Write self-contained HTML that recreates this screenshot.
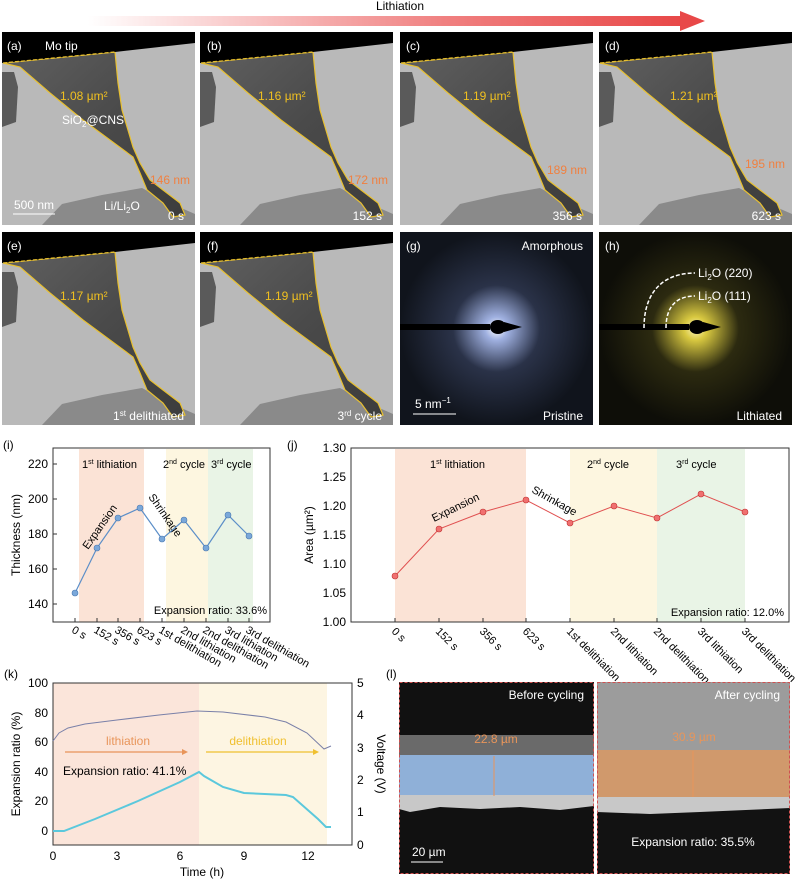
<!DOCTYPE html>
<html><head><meta charset="utf-8"><style>
html,body{margin:0;padding:0;background:#fff}
svg{display:block;font-family:"Liberation Sans",sans-serif}
</style></head><body>
<svg width="811" height="881" viewBox="0 0 811 881" xmlns="http://www.w3.org/2000/svg">
<defs>
<linearGradient id="arr" x1="0" x2="1" y1="0" y2="0"><stop offset="0" stop-color="#fff"/><stop offset="0.6" stop-color="#f08080"/><stop offset="1" stop-color="#e84848"/></linearGradient>
<linearGradient id="body" x1="0" y1="0" x2="1" y2="1"><stop offset="0" stop-color="#606060"/><stop offset="0.5" stop-color="#4a4a4a"/><stop offset="1" stop-color="#3c3c3c"/></linearGradient>
<radialGradient id="gb" cx="0.5" cy="0.5" r="0.5"><stop offset="0" stop-color="#fff"/><stop offset="0.12" stop-color="#9fb0e0"/><stop offset="0.45" stop-color="#2a3248"/><stop offset="1" stop-color="#10141c"/></radialGradient>
<radialGradient id="gy" cx="0.5" cy="0.5" r="0.5"><stop offset="0" stop-color="#fff8c0"/><stop offset="0.12" stop-color="#d8c840"/><stop offset="0.45" stop-color="#2c2a10"/><stop offset="1" stop-color="#0e0e08"/></radialGradient>
<g id="tem">
<rect x="0" y="0" width="193" height="193" fill="#b9b9b9"/>
<polygon points="40,193 60,172 100,163 140,156 170,172 193,182 193,193" fill="#8a8a8a"/>
<polygon points="0,40 12,40 16,55 14,90 0,95" fill="#5a5a5a"/>
<polygon points="1,31 113,20 116,51 120,78 131,115 138,131 148,148 161,158 178,171 183,183 171,185 161,171 145,158 138,141 131,125 108,108 81,88 48,61 18,35" fill="url(#body)" stroke="#e8c030" stroke-width="1.2"/>
<polygon points="0,0 193,0 193,11 113,20 0,31" fill="#000"/>
<line x1="1" y1="31" x2="113" y2="20" stroke="#e8c030" stroke-width="1.3" stroke-dasharray="4,2"/>
</g>
</defs>

<text x="400" y="10" font-size="12" text-anchor="middle">Lithiation</text>
<rect x="88" y="16" width="594" height="10" fill="url(#arr)"/>
<polygon points="680,11 705,21 680,31" fill="#e84848"/>

<use href="#tem" x="2" y="32"/>
<use href="#tem" x="200" y="32"/>
<use href="#tem" x="400" y="32"/>
<use href="#tem" x="599" y="32"/>
<use href="#tem" x="2" y="232"/>
<use href="#tem" x="200" y="232"/>
<g font-size="12" fill="#fff">
<text x="7" y="50">(a)</text><text x="45" y="50">Mo tip</text>
<text x="207" y="50">(b)</text><text x="406" y="50">(c)</text><text x="605" y="50">(d)</text>
<text x="7" y="250">(e)</text><text x="207" y="250">(f)</text>
<text x="62" y="124">SiO<tspan font-size="8" dy="3">2</tspan><tspan dy="-3">@CNS</tspan></text>
<text x="104" y="210">Li/Li<tspan font-size="8" dy="3">2</tspan><tspan dy="-3">O</tspan></text>
<text x="14" y="209">500 nm</text>
<text x="184" y="220" text-anchor="end">0 s</text>
<text x="382" y="220" text-anchor="end">152 s</text>
<text x="582" y="220" text-anchor="end">356 s</text>
<text x="781" y="220" text-anchor="end">623 s</text>
<text x="184" y="420" text-anchor="end">1<tspan font-size="8" dy="-4">st</tspan><tspan dy="4"> delithiated</tspan></text>
<text x="382" y="420" text-anchor="end">3<tspan font-size="8" dy="-4">rd</tspan><tspan dy="4"> cycle</tspan></text>
</g>
<line x1="13" y1="214" x2="55" y2="214" stroke="#fff" stroke-width="1"/>
<g font-size="12" fill="#f0c020">
<text x="60" y="100">1.08 µm²</text><text x="258" y="100">1.16 µm²</text>
<text x="463" y="100">1.19 µm²</text><text x="670" y="100">1.21 µm²</text>
<text x="60" y="300">1.17 µm²</text><text x="265" y="300">1.19 µm²</text>
</g>
<g font-size="12" fill="#f08040">
<text x="150" y="184">146 nm</text><text x="348" y="184">172 nm</text>
<text x="547" y="174">189 nm</text><text x="745" y="168">195 nm</text>
</g>

<rect x="400" y="232" width="193" height="193" fill="url(#gb)"/>
<rect x="599" y="232" width="193" height="193" fill="url(#gy)"/>
<g fill="#000">
<rect x="400" y="324" width="90" height="6"/><ellipse cx="498" cy="327" rx="8" ry="7"/><polygon points="504,322 522,327 504,332"/>
<rect x="599" y="324" width="90" height="6"/><ellipse cx="697" cy="327" rx="8" ry="7"/><polygon points="703,322 721,327 703,332"/>
</g>
<path d="M644,328 C644,290 665,273 695,273" fill="none" stroke="#fff" stroke-width="1.5" stroke-dasharray="4,2"/>
<path d="M666,328 C666,305 678,296 695,296" fill="none" stroke="#fff" stroke-width="1.5" stroke-dasharray="4,2"/>
<g font-size="12" fill="#fff">
<text x="406" y="250">(g)</text><text x="583" y="250" text-anchor="end">Amorphous</text>
<text x="415" y="408">5 nm<tspan font-size="8" dy="-5">−1</tspan></text>
<text x="583" y="420" text-anchor="end">Pristine</text>
<text x="605" y="250">(h)</text><text x="782" y="420" text-anchor="end">Lithiated</text>
<text x="698" y="277">Li<tspan font-size="8" dy="3">2</tspan><tspan dy="-3">O (220)</tspan></text>
<text x="698" y="300">Li<tspan font-size="8" dy="3">2</tspan><tspan dy="-3">O (111)</tspan></text>
</g>
<line x1="413" y1="414" x2="456" y2="414" stroke="#fff"/>

<!-- (i) -->
<text x="3" y="449" font-size="12">(i)</text>
<rect x="79" y="449" width="65" height="173" fill="#fbe3d6"/>
<rect x="166" y="449" width="42" height="173" fill="#fdf6e0"/>
<rect x="208" y="449" width="45" height="173" fill="#e9f4e6"/>
<rect x="53" y="448" width="217" height="174" fill="none" stroke="#333" stroke-width="1"/>
<g font-size="12" text-anchor="end">
<text x="48" y="468">220</text><text x="48" y="503">200</text><text x="48" y="538">180</text><text x="48" y="573">160</text><text x="48" y="608">140</text>
</g>
<g stroke="#333"><line x1="53" y1="464" x2="57" y2="464"/><line x1="53" y1="499" x2="57" y2="499"/><line x1="53" y1="534" x2="57" y2="534"/><line x1="53" y1="569" x2="57" y2="569"/><line x1="53" y1="604" x2="57" y2="604"/>
<line x1="75" y1="622" x2="75" y2="618"/><line x1="97" y1="622" x2="97" y2="618"/><line x1="118" y1="622" x2="118" y2="618"/><line x1="140" y1="622" x2="140" y2="618"/><line x1="162" y1="622" x2="162" y2="618"/><line x1="184" y1="622" x2="184" y2="618"/><line x1="206" y1="622" x2="206" y2="618"/><line x1="228" y1="622" x2="228" y2="618"/><line x1="249" y1="622" x2="249" y2="618"/></g>
<text transform="translate(20,535) rotate(-90)" font-size="12" text-anchor="middle">Thickness (nm)</text>
<g font-size="11">
<text x="82" y="468">1<tspan font-size="7" dy="-4">st</tspan><tspan dy="4"> lithiation</tspan></text>
<text x="163" y="468">2<tspan font-size="7" dy="-4">nd</tspan><tspan dy="4"> cycle</tspan></text>
<text x="211" y="468">3<tspan font-size="7" dy="-4">rd</tspan><tspan dy="4"> cycle</tspan></text>
<text x="267" y="614" text-anchor="end">Expansion ratio: 33.6%</text>
<text transform="translate(88,550) rotate(-55)">Expansion</text>
<text transform="translate(148,497) rotate(55)">Shrinkage</text>
</g>
<polyline points="75,593 97,548 118,518 140,508 162,539 184,520 206,548 228,515 249,536" fill="none" stroke="#5b8ec8" stroke-width="1.2"/>
<g fill="#7aa8da" stroke="#4a78b0" stroke-width="0.6"><circle cx="75" cy="593" r="3"/><circle cx="97" cy="548" r="3"/><circle cx="118" cy="518" r="3"/><circle cx="140" cy="508" r="3"/><circle cx="162" cy="539" r="3"/><circle cx="184" cy="520" r="3"/><circle cx="206" cy="548" r="3"/><circle cx="228" cy="515" r="3"/><circle cx="249" cy="536" r="3"/></g>
<g font-size="11">
<text transform="translate(71,632) rotate(30)">0 s</text>
<text transform="translate(93,632) rotate(30)">152 s</text>
<text transform="translate(114,632) rotate(30)">356 s</text>
<text transform="translate(136,632) rotate(30)">623 s</text>
<text transform="translate(158,632) rotate(30)">1st delithiation</text>
<text transform="translate(180,632) rotate(30)">2nd lithiation</text>
<text transform="translate(202,632) rotate(30)">2nd delithiation</text>
<text transform="translate(224,632) rotate(30)">3rd lithiation</text>
<text transform="translate(245,632) rotate(30)">3rd delithiation</text>
</g>

<!-- (j) -->
<text x="287" y="449" font-size="12">(j)</text>
<rect x="395" y="449" width="131" height="173" fill="#fbe3d6"/>
<rect x="570" y="449" width="87" height="173" fill="#fdf6e0"/>
<rect x="657" y="449" width="88" height="173" fill="#e9f4e6"/>
<rect x="351" y="448" width="438" height="174" fill="none" stroke="#333"/>
<g font-size="12" text-anchor="end">
<text x="346" y="452">1.30</text><text x="346" y="481">1.25</text><text x="346" y="510">1.20</text><text x="346" y="539">1.15</text><text x="346" y="568">1.10</text><text x="346" y="597">1.05</text><text x="346" y="626">1.00</text>
</g>
<g stroke="#333"><line x1="395" y1="622" x2="395" y2="618"/><line x1="439" y1="622" x2="439" y2="618"/><line x1="483" y1="622" x2="483" y2="618"/><line x1="526" y1="622" x2="526" y2="618"/><line x1="570" y1="622" x2="570" y2="618"/><line x1="614" y1="622" x2="614" y2="618"/><line x1="657" y1="622" x2="657" y2="618"/><line x1="701" y1="622" x2="701" y2="618"/><line x1="745" y1="622" x2="745" y2="618"/></g>
<text transform="translate(313,535) rotate(-90)" font-size="12" text-anchor="middle">Area (µm²)</text>
<g font-size="11">
<text x="430" y="468">1<tspan font-size="7" dy="-4">st</tspan><tspan dy="4"> lithiation</tspan></text>
<text x="587" y="468">2<tspan font-size="7" dy="-4">nd</tspan><tspan dy="4"> cycle</tspan></text>
<text x="676" y="468">3<tspan font-size="7" dy="-4">rd</tspan><tspan dy="4"> cycle</tspan></text>
<text x="784" y="616" text-anchor="end">Expansion ratio: 12.0%</text>
<text transform="translate(434,522) rotate(-26)">Expansion</text>
<text transform="translate(531,492) rotate(29)">Shrinkage</text>
</g>
<polyline points="395,576 439,529 483,512 526,500 570,523 614,506 657,518 701,494 745,512" fill="none" stroke="#e05050" stroke-width="1"/>
<g fill="#f07070" stroke="#c03030" stroke-width="0.6"><circle cx="395" cy="576" r="3"/><circle cx="439" cy="529" r="3"/><circle cx="483" cy="512" r="3"/><circle cx="526" cy="500" r="3"/><circle cx="570" cy="523" r="3"/><circle cx="614" cy="506" r="3"/><circle cx="657" cy="518" r="3"/><circle cx="701" cy="494" r="3"/><circle cx="745" cy="512" r="3"/></g>
<g font-size="11">
<text transform="translate(391,632) rotate(45)">0 s</text>
<text transform="translate(435,632) rotate(45)">152 s</text>
<text transform="translate(479,632) rotate(45)">356 s</text>
<text transform="translate(522,632) rotate(45)">623 s</text>
<text transform="translate(566,632) rotate(45)">1st delithiation</text>
<text transform="translate(610,632) rotate(45)">2nd lithiation</text>
<text transform="translate(653,632) rotate(45)">2nd delithiation</text>
<text transform="translate(697,632) rotate(45)">3rd lithiation</text>
<text transform="translate(741,632) rotate(45)">3rd delithiation</text>
</g>

<!-- (k) -->
<text x="4" y="678" font-size="12">(k)</text>
<rect x="53" y="683" width="146" height="162" fill="#fbe5da"/>
<rect x="199" y="683" width="128" height="162" fill="#fdf5e2"/>
<rect x="53" y="683" width="299" height="162" fill="none" stroke="#333"/>
<g font-size="12" text-anchor="end">
<text x="48" y="687">100</text><text x="48" y="717">80</text><text x="48" y="746">60</text><text x="48" y="776">40</text><text x="48" y="805">20</text><text x="48" y="835">0</text>
</g>
<g font-size="12">
<text x="357" y="687">5</text><text x="357" y="719">4</text><text x="357" y="752">3</text><text x="357" y="784">2</text><text x="357" y="816">1</text><text x="357" y="849">0</text>
</g>
<g font-size="12" text-anchor="middle">
<text x="53" y="860">0</text><text x="117" y="860">3</text><text x="180" y="860">6</text><text x="244" y="860">9</text><text x="308" y="860">12</text>
<text x="202" y="876">Time (h)</text>
</g>
<text transform="translate(20,764) rotate(-90)" font-size="12" text-anchor="middle">Expansion ratio (%)</text>
<text transform="translate(377,764) rotate(90)" font-size="12" text-anchor="middle">Voltage (V)</text>
<polyline points="53,741 59,733 68,728 85,724 117,720 159,715 197,711 223,712 265,717 286,722 307,733 324,749 331,746" fill="none" stroke="#7a80a8" stroke-width="1"/>
<polyline points="53,831 64,831 95,819 138,801 180,782 199,772 204,776 223,787 244,793 286,795 293,797 318,819 326,827 331,827" fill="none" stroke="#5bc8dc" stroke-width="2"/>
<text x="128" y="745" font-size="12" fill="#e8955a" text-anchor="middle">lithiation</text>
<text x="258" y="745" font-size="12" fill="#f0c030" text-anchor="middle">delithiation</text>
<line x1="65" y1="752" x2="182" y2="752" stroke="#e8955a" stroke-width="1.2"/><polygon points="182,749 188,752 182,755" fill="#e8955a"/>
<line x1="206" y1="752" x2="313" y2="752" stroke="#f0c030" stroke-width="1.2"/><polygon points="313,749 319,752 313,755" fill="#f0c030"/>
<text x="63" y="775" font-size="12">Expansion ratio: 41.1%</text>

<!-- (l) -->
<text x="386" y="678" font-size="12">(l)</text>
<rect x="399" y="682" width="195" height="192" fill="#111"/>
<rect x="399" y="735" width="195" height="20" fill="#6a6a6a"/>
<rect x="399" y="755" width="195" height="40" fill="#8fb0d8"/>
<polygon points="399,795 594,795 594,806 560,810 520,807 480,809 440,807 410,812 399,809" fill="#c8c8c8"/>
<rect x="597" y="682" width="193" height="192" fill="#121212"/>
<rect x="597" y="682" width="193" height="68" fill="#9c9c9c"/>
<rect x="597" y="750" width="193" height="47" fill="#d0996c"/>
<polygon points="597,797 790,797 790,808 700,812 650,814 597,812" fill="#c8c8c8"/>
<rect x="399.5" y="682.5" width="194" height="191" fill="none" stroke="#d05050" stroke-dasharray="3,2"/>
<rect x="597.5" y="682.5" width="192" height="191" fill="none" stroke="#d05050" stroke-dasharray="3,2"/>
<line x1="494" y1="756" x2="494" y2="796" stroke="#e8955a"/>
<line x1="693" y1="751" x2="693" y2="797" stroke="#e8955a"/>
<text x="496" y="743" font-size="12" fill="#e8955a" text-anchor="middle">22.8 µm</text>
<text x="694" y="741" font-size="12" fill="#e8955a" text-anchor="middle">30.9 µm</text>
<g font-size="12" fill="#fff">
<text x="584" y="699" text-anchor="end">Before cycling</text>
<text x="780" y="699" text-anchor="end">After cycling</text>
<text x="412" y="856">20 µm</text>
<text x="693" y="846" text-anchor="middle">Expansion ratio: 35.5%</text>
</g>
<line x1="411" y1="862" x2="443" y2="862" stroke="#fff"/>
</svg>
</body></html>
